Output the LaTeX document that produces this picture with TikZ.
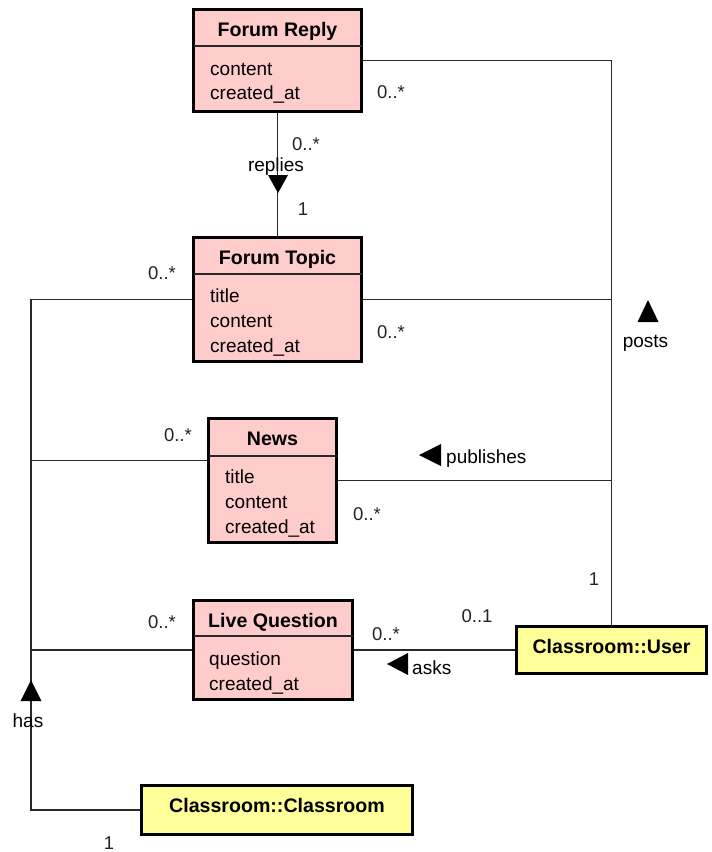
\documentclass[tikz,border=0pt]{standalone}
\usepackage{fontspec}
\setmainfont{Liberation Sans}
\usetikzlibrary{backgrounds}
\definecolor{classpink}{RGB}{255,204,204}
\definecolor{extyellow}{RGB}{255,255,153}
\definecolor{linegray}{RGB}{40,40,40}
\tikzset{
  classbox/.style={draw=black, line width=3.2pt, inner sep=0pt, outer sep=0pt, anchor=north west},
  divider/.style={draw=linegray, line width=1.5pt},
  assoc/.style={draw=linegray, line width=1.8pt},
  tri/.style={fill=black, draw=none},
  ctitle/.style={font=\fontsize{19.6}{22}\selectfont\bfseries, inner sep=0pt, anchor=base},
  attr/.style={font=\fontsize{19}{22}\selectfont, inner sep=0pt, anchor=base west},
  mult/.style={font=\fontsize{18.5}{22}\selectfont, text={rgb,255:red,35;green,35;blue,35}, inner sep=0pt, anchor=base},
  rolelabel/.style={font=\fontsize{19}{22}\selectfont, inner sep=0pt, anchor=base},
}
\begin{document}
\begin{tikzpicture}[x=1pt, y=-1pt]
\useasboundingbox (0,0) rectangle (712,852);

% ---- classes ----
\node[classbox, fill=classpink, minimum width=168pt, minimum height=102pt] (reply) at (193.5,9.5) {};
\node[classbox, fill=classpink, minimum width=168pt, minimum height=124pt] (topic) at (193.5,237.5) {};
\node[classbox, fill=classpink, minimum width=128pt, minimum height=124pt] (news) at (208.5,418.5) {};
\node[classbox, fill=classpink, minimum width=159pt, minimum height=99pt] (lq) at (193.5,600.5) {};
\node[classbox, fill=extyellow, minimum width=271pt, minimum height=49pt] (classroom) at (141.5,785.5) {};
\node[classbox, fill=extyellow, minimum width=190pt, minimum height=47pt] (user) at (516.5,626.5) {};

% compartment separators
\draw[divider] (reply.west |- 0,46) -- (reply.east |- 0,46);
\draw[divider] (topic.west |- 0,274) -- (topic.east |- 0,274);
\draw[divider] (news.west |- 0,456) -- (news.east |- 0,456);
\draw[divider] (lq.west |- 0,636) -- (lq.east |- 0,636);

% class names
\node[ctitle] at (reply.center |- 0,36) {Forum Reply};
\node[ctitle] at (topic.center |- 0,264) {Forum Topic};
\node[ctitle] at (news.center |- 0,445) {News};
\node[ctitle] at (lq.center |- 0,627) {Live Question};
\node[ctitle] at (classroom.center |- 0,812) {Classroom::Classroom};
\node[ctitle] at (user.center |- 0,653) {Classroom::User};

% attributes
\node[attr] at (210,75) {content};
\node[attr] at (210,99) {created\_at};
\node[attr] at (210,302) {title};
\node[attr] at (210,327) {content};
\node[attr] at (210,352) {created\_at};
\node[attr] at (225,483) {title};
\node[attr] at (225,508) {content};
\node[attr] at (225,533) {created\_at};
\node[attr] at (209,665) {question};
\node[attr] at (209,690) {created\_at};

% ---- associations ----
\coordinate (busx) at (31,0);
\coordinate (newsL) at ([yshift=-42pt]news.north west);
\begin{scope}[on background layer]
  \draw[assoc] (reply.south) -- (topic.north);
  \draw[assoc] (reply.east) -| (user.north);
  \draw[assoc] (topic.east) -- (topic.east -| user.north);
  \draw[assoc] (news.east) -- (news.east -| user.north);
  \draw[assoc] (lq.east) -- (user.west);
  \draw[assoc] (topic.west) -- (topic.west -| busx) -- (classroom.west -| busx) -- (classroom.west);
  \draw[assoc] (newsL) -- (newsL -| busx);
  \draw[assoc] (lq.west) -- (lq.west -| busx);
\end{scope}

% direction markers
\fill[tri] (268,175) -- (288,175) -- (278,193) -- cycle;
\fill[tri] (20.5,701) -- (41.5,701) -- (31,680) -- cycle;
\fill[tri] (637.5,322) -- (658.5,322) -- (648,300) -- cycle;
\fill[tri] (419,455) -- (441,444) -- (441,466) -- cycle;
\fill[tri] (387,664) -- (408,653) -- (408,675) -- cycle;

% association names
\node[rolelabel] at (276,171) {replies};
\node[rolelabel] at (28,727) {has};
\node[rolelabel] at (645.5,347) {posts};
\node[rolelabel, anchor=base west] at (446,463) {publishes};
\node[rolelabel, anchor=base west] at (412,674) {asks};

% multiplicities
\node[mult] at (391,98) {0..*};
\node[mult] at (306,150) {0..*};
\node[mult] at (303,215) {1};
\node[mult] at (162,279) {0..*};
\node[mult] at (391,338) {0..*};
\node[mult] at (178,441) {0..*};
\node[mult] at (367,520) {0..*};
\node[mult] at (594,585) {1};
\node[mult] at (477,622) {0..1};
\node[mult] at (386,640) {0..*};
\node[mult] at (162,628) {0..*};
\node[mult] at (109,849) {1};
\end{tikzpicture}
\end{document}
